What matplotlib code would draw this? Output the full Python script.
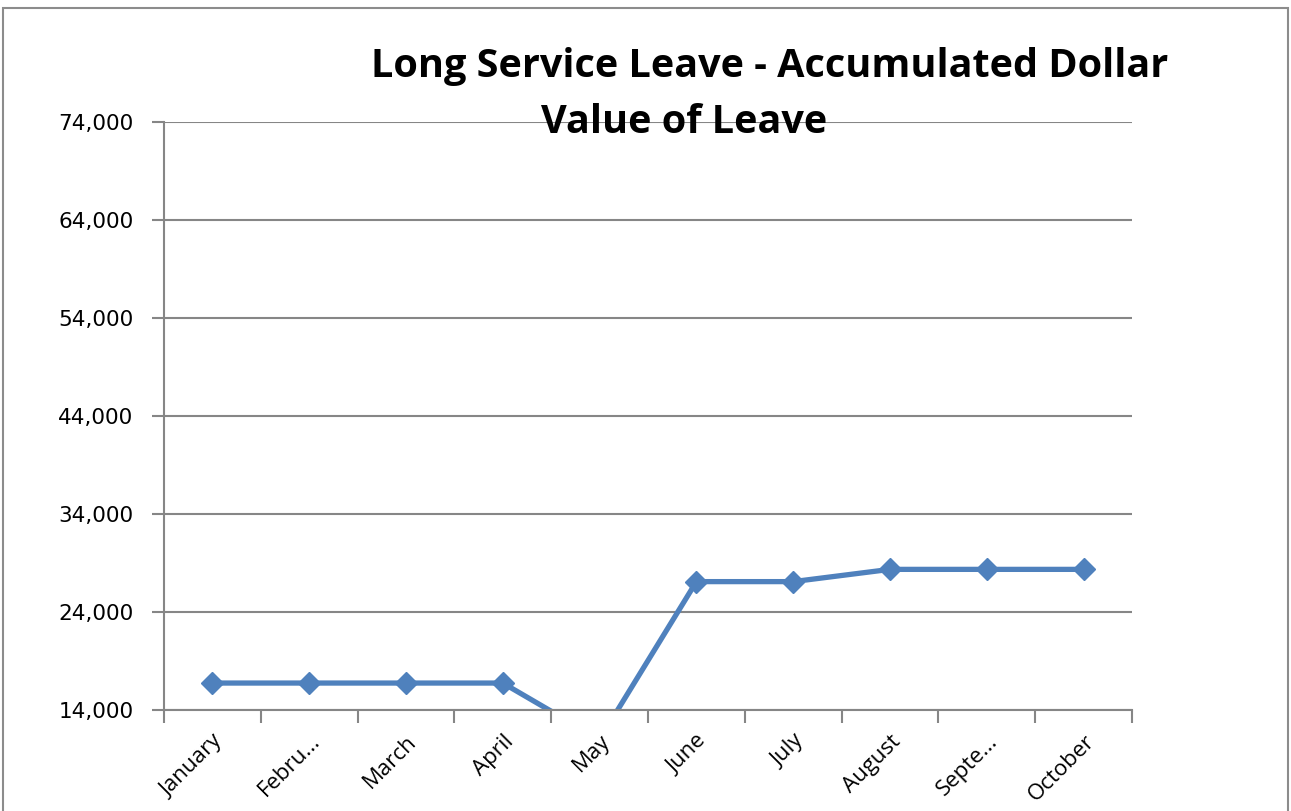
import matplotlib.pyplot as plt
from matplotlib.patches import Rectangle
from matplotlib.ticker import FuncFormatter, FixedLocator

# Long service leave balance, dollars, by month
months = ['January', 'Febru...', 'March', 'April', 'May',
          'June', 'July', 'August', 'Septe...', 'October']
leave_value = [16750, 16750, 16750, 16750, 11000,
               27100, 27100, 28350, 28350, 28350]

y_ticks = [14000, 24000, 34000, 44000, 54000, 64000, 74000]

fig = plt.figure(figsize=(12.91, 8.11), dpi=100)

# chart frame round the whole figure
fig.patches.append(Rectangle((3 / 1291, -0.1), 1285 / 1291, 1.1 - 8 / 811,
                             transform=fig.transFigure, fill=False,
                             edgecolor='#8c8c8c', linewidth=1.5))

ax = fig.add_axes([164 / 1291, 1 - 710 / 811, 968 / 1291, 588 / 811])

x = range(len(months))
ax.plot(x, leave_value, color='#4f81bd', linewidth=3.8,
        marker='D', markersize=11, markeredgecolor='#4f81bd')

ax.set_xlim(-0.5, len(months) - 0.5)
ax.set_ylim(y_ticks[0], y_ticks[-1])

ax.set_yticks(y_ticks)
ax.yaxis.set_major_formatter(FuncFormatter(lambda v, p: f'{v:,.0f}'))
ax.grid(axis='y', color='#868686', linewidth=1.5)
ax.set_axisbelow(True)

ax.set_xticks(list(x))
ax.set_xticklabels(months, rotation=45, ha='right', rotation_mode='anchor',
                   fontfamily='Open Sans', fontsize=16)
ax.xaxis.set_minor_locator(FixedLocator([i - 0.5 for i in range(len(months) + 1)]))
ax.tick_params(axis='x', which='major', length=0, pad=15)
ax.tick_params(axis='x', which='minor', length=9, width=1.5, color='#868686')
ax.tick_params(axis='y', length=9, width=1.5, color='#868686', labelsize=15.5, pad=13)

for side in ['top', 'right']:
    ax.spines[side].set_visible(False)
for side in ['left', 'bottom']:
    ax.spines[side].set_color('#868686')
    ax.spines[side].set_linewidth(1.5)

fig.text(770 / 1291, 1 - 77 / 811, 'Long Service Leave - Accumulated Dollar',
         ha='center', va='baseline', fontsize=28.5, fontweight='bold',
         fontfamily='Open Sans')
fig.text(684 / 1291, 1 - 133 / 811, 'Value of Leave',
         ha='center', va='baseline', fontsize=28.5, fontweight='bold',
         fontfamily='Open Sans')

fig.savefig('out.png', dpi=100)
